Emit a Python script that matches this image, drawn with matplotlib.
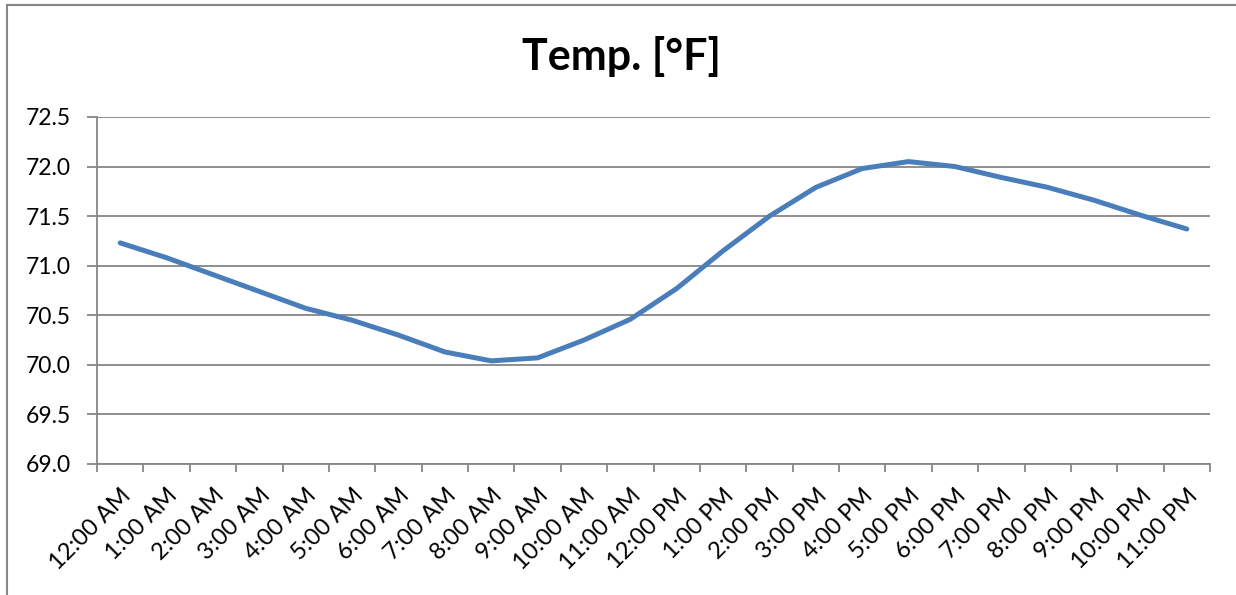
import numpy as np
import matplotlib.pyplot as plt
from matplotlib.lines import Line2D

# hourly temperature readings
hours = ['12:00 AM', '1:00 AM', '2:00 AM', '3:00 AM', '4:00 AM', '5:00 AM',
         '6:00 AM', '7:00 AM', '8:00 AM', '9:00 AM', '10:00 AM', '11:00 AM',
         '12:00 PM', '1:00 PM', '2:00 PM', '3:00 PM', '4:00 PM', '5:00 PM',
         '6:00 PM', '7:00 PM', '8:00 PM', '9:00 PM', '10:00 PM', '11:00 PM']
temp_f = [71.23, 71.08, 70.91, 70.74, 70.57, 70.45, 70.30, 70.13, 70.04, 70.07,
          70.25, 70.46, 70.77, 71.15, 71.50, 71.79, 71.98, 72.05, 72.00, 71.89,
          71.79, 71.66, 71.51, 71.37]
y_ticks = [69.0, 69.5, 70.0, 70.5, 71.0, 71.5, 72.0, 72.5]

plt.rcParams['font.family'] = ['Lato', 'DejaVu Sans']

fig = plt.figure(figsize=(12.36, 5.95), dpi=100)
ax = fig.add_axes([0.0785, 0.2202, 0.9005, 0.5832])

x = np.arange(len(hours))
ax.plot(x, temp_f, color='#4a7ebb', linewidth=3.6, solid_capstyle='round',
        solid_joinstyle='round', zorder=3)

grid_c = '#868686'
ax.set_xlim(-0.5, len(hours) - 0.5)
ax.set_ylim(69.0, 72.5)
ax.set_yticks(y_ticks)
ax.set_yticklabels([f'{v:.1f}' for v in y_ticks], fontsize=16.5)
ax.yaxis.grid(True, color=grid_c, linewidth=1.3)
ax.set_axisbelow(True)

# category ticks sit between the labels, labels at the centres
ax.set_xticks(np.arange(len(hours) + 1) - 0.5)
ax.set_xticklabels([])
ax.set_xticks(x, minor=True)
ax.set_xticklabels(hours, minor=True, rotation=45, ha='right',
                   rotation_mode='anchor', fontsize=17)
ax.tick_params(axis='x', which='minor', length=0, pad=15)
ax.tick_params(axis='x', which='major', length=6, width=1.3, color=grid_c)
ax.tick_params(axis='y', length=7, width=1.3, color=grid_c, pad=12)

for side in ['top', 'right']:
    ax.spines[side].set_visible(False)
for side in ['left', 'bottom']:
    ax.spines[side].set_color(grid_c)
    ax.spines[side].set_linewidth(1.3)

fig.text(0.503, 0.905, 'Temp. [°F]', ha='center', va='center',
         fontsize=31, fontweight='bold')

# chart-area border (only top and left are in frame)
fig.add_artist(Line2D([0.0057, 0.0057], [0, 0.9916], color=grid_c, linewidth=1.5,
                      transform=fig.transFigure))
fig.add_artist(Line2D([0.0057, 1.0], [0.9916, 0.9916], color=grid_c, linewidth=1.5,
                      transform=fig.transFigure))

fig.savefig('out.png', dpi=100)
